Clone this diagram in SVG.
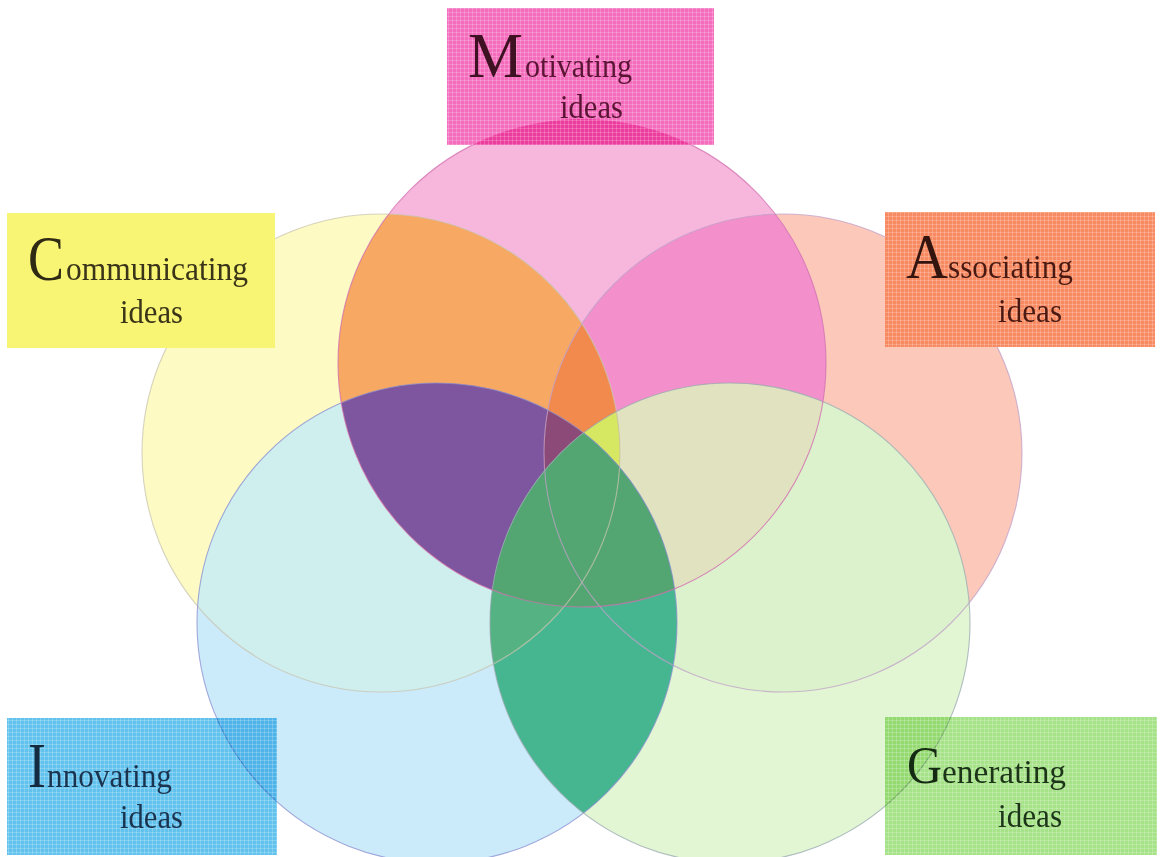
<svg xmlns="http://www.w3.org/2000/svg" xmlns:xlink="http://www.w3.org/1999/xlink" width="1163" height="857" viewBox="0 0 1163 857">
  <style>
    .outline { fill: none; stroke-width: 1.1; stroke-opacity: 0.75; }
    .box { mix-blend-mode: multiply; }
    .cap { font-family: "Liberation Serif", "Times New Roman", serif; font-size: 64px; }
    .word { font-family: "Liberation Serif", "Times New Roman", serif; font-size: 34px; }
  </style>
  <defs>
    <rect id="full" x="0" y="0" width="1163" height="857"/>
    <clipPath id="cM"><circle cx="582" cy="363" r="244"/></clipPath>
    <clipPath id="cC"><circle cx="381" cy="453" r="239"/></clipPath>
    <clipPath id="cA"><circle cx="783" cy="453" r="239"/></clipPath>
    <clipPath id="cI"><circle cx="437" cy="623" r="240"/></clipPath>
    <clipPath id="cG"><circle cx="730" cy="623" r="240"/></clipPath>
    <!-- fine screen texture used on the label boxes -->
    <pattern id="screen" width="4" height="4" patternUnits="userSpaceOnUse">
      <path d="M0 0.5H4M0.5 0V4" stroke="#ffffff" stroke-width="0.8" stroke-opacity="0.25" fill="none"/>
    </pattern>
  </defs>

  <rect width="1163" height="857" fill="#ffffff"/>

  <!-- single-set areas -->
  <g id="sets">
    <g clip-path="url(#cC)"><use href="#full" fill="#fdfac4"/></g>
    <g clip-path="url(#cA)"><use href="#full" fill="#fbc8ba"/></g>
    <g clip-path="url(#cI)"><use href="#full" fill="#cbebfa"/></g>
    <g clip-path="url(#cG)"><use href="#full" fill="#e3f6d4"/></g>
    <g clip-path="url(#cM)"><use href="#full" fill="#f7b6dc"/></g>
  </g>

  <!-- overlaps, painted from two sets up to four sets -->
  <g id="overlaps">
    <g clip-path="url(#cC)"><g clip-path="url(#cI)"><use href="#full" fill="#cfeeee"/></g></g>
    <g clip-path="url(#cA)"><g clip-path="url(#cG)"><use href="#full" fill="#dcf2cc"/></g></g>
    <g clip-path="url(#cM)"><g clip-path="url(#cC)"><use href="#full" fill="#f7a862"/></g></g>
    <g clip-path="url(#cM)"><g clip-path="url(#cA)"><use href="#full" fill="#f390cc"/></g></g>
    <g clip-path="url(#cM)"><g clip-path="url(#cI)"><use href="#full" fill="#7d569f"/></g></g>
    <g clip-path="url(#cM)"><g clip-path="url(#cG)"><use href="#full" fill="#e1e3c0"/></g></g>
    <g clip-path="url(#cM)"><g clip-path="url(#cC)"><g clip-path="url(#cA)"><use href="#full" fill="#f18a4c"/></g></g></g>
    <g clip-path="url(#cM)"><g clip-path="url(#cC)"><g clip-path="url(#cA)"><g clip-path="url(#cI)"><use href="#full" fill="#8c4a78"/></g></g></g></g>
    <g clip-path="url(#cM)"><g clip-path="url(#cC)"><g clip-path="url(#cA)"><g clip-path="url(#cG)"><use href="#full" fill="#d6e862"/></g></g></g></g>
    <g clip-path="url(#cI)"><g clip-path="url(#cG)"><use href="#full" fill="#46b690"/></g></g>
    <g clip-path="url(#cI)"><g clip-path="url(#cG)"><g clip-path="url(#cC)"><use href="#full" fill="#55b383"/></g></g></g>
    <g clip-path="url(#cI)"><g clip-path="url(#cG)"><g clip-path="url(#cM)"><use href="#full" fill="#53a672"/></g></g></g>
  </g>

  <!-- circle rims -->
  <g id="rims">
    <circle class="outline" cx="381" cy="453" r="239" stroke="#c8c4b0"/>
    <circle class="outline" cx="783" cy="453" r="239" stroke="#c0a0c8"/>
    <circle class="outline" cx="437" cy="623" r="240" stroke="#8a8ed0"/>
    <circle class="outline" cx="730" cy="623" r="240" stroke="#98a8b0"/>
    <circle class="outline" cx="582" cy="363" r="244" stroke="#d070b0"/>
  </g>

  <!-- labels -->
  <g id="motivating">
    <rect x="447" y="8" width="267" height="137" fill="#f46cbc"/>
    <g clip-path="url(#cM)"><rect x="447" y="8" width="267" height="137" fill="#ec3c9e"/></g>
    <rect x="447" y="8" width="267" height="137" fill="url(#screen)"/>
    <text class="cap" x="468" y="77" fill="#3e1222" textLength="55" lengthAdjust="spacingAndGlyphs">M</text>
    <text class="word" x="525" y="77" fill="#5a1434" textLength="107" lengthAdjust="spacingAndGlyphs">otivating</text>
    <text class="word" x="560" y="118" fill="#5a1434" textLength="63" lengthAdjust="spacingAndGlyphs">ideas</text>
  </g>
  <g id="communicating">
    <rect x="7" y="213" width="268" height="135" fill="#f8f474"/>
    <text class="cap" x="28" y="280" fill="#2e2a14" textLength="36" lengthAdjust="spacingAndGlyphs">C</text>
    <text class="word" x="66" y="280" fill="#3a3418" textLength="182" lengthAdjust="spacingAndGlyphs">ommunicating</text>
    <text class="word" x="120" y="323" fill="#3a3418" textLength="63" lengthAdjust="spacingAndGlyphs">ideas</text>
  </g>
  <g id="associating">
    <rect x="885" y="212" width="270" height="135" fill="#f88a62"/>
    <rect x="885" y="212" width="270" height="135" fill="url(#screen)"/>
    <text class="cap" x="906" y="278" fill="#33140e" textLength="42" lengthAdjust="spacingAndGlyphs">A</text>
    <text class="word" x="948" y="278" fill="#4a1a12" textLength="125" lengthAdjust="spacingAndGlyphs">ssociating</text>
    <text class="word" x="998" y="322" fill="#4a1a12" textLength="64" lengthAdjust="spacingAndGlyphs">ideas</text>
  </g>
  <g id="innovating">
    <rect class="box" x="7" y="718" width="270" height="137" fill="#62c2ee"/>
    <rect x="7" y="718" width="270" height="137" fill="url(#screen)"/>
    <text class="cap" x="28" y="787" fill="#142a40" textLength="18" lengthAdjust="spacingAndGlyphs">I</text>
    <text class="word" x="47" y="787" fill="#1a3450" textLength="125" lengthAdjust="spacingAndGlyphs">nnovating</text>
    <text class="word" x="120" y="828" fill="#1a3450" textLength="63" lengthAdjust="spacingAndGlyphs">ideas</text>
  </g>
  <g id="generating">
    <rect class="box" x="885" y="717" width="272" height="138" fill="#a6e288"/>
    <rect x="885" y="717" width="272" height="138" fill="url(#screen)"/>
    <text class="cap" x="907" y="783" fill="#142a12" style="font-size:52px" textLength="35" lengthAdjust="spacingAndGlyphs">G</text>
    <text class="word" x="942" y="783" fill="#1c3418" textLength="124" lengthAdjust="spacingAndGlyphs">enerating</text>
    <text class="word" x="998" y="827" fill="#1c3418" textLength="64" lengthAdjust="spacingAndGlyphs">ideas</text>
  </g>
</svg>
